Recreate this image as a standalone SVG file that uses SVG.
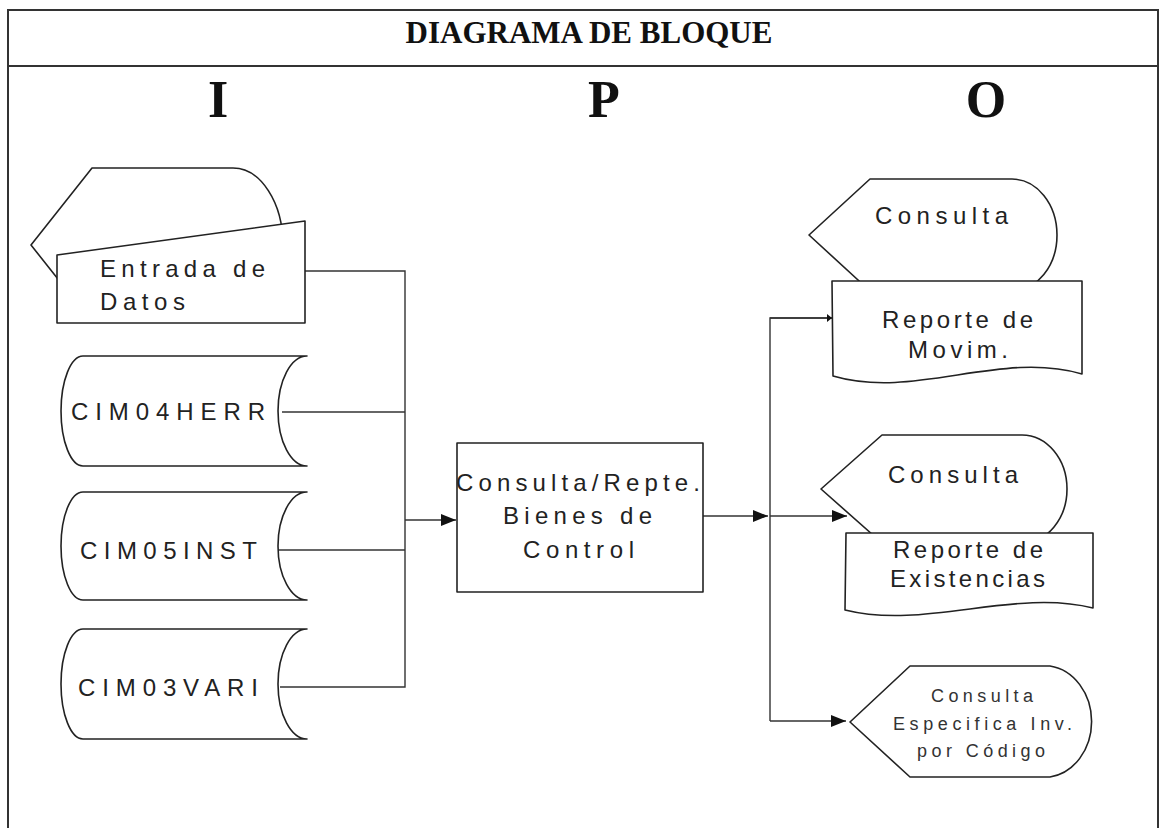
<svg xmlns="http://www.w3.org/2000/svg" width="1161" height="828" viewBox="0 0 1161 828">
<style>
.sh{fill:#fff;stroke:#222;stroke-width:1.6;stroke-linejoin:round}
.ln{fill:none;stroke:#333;stroke-width:1.4}
.fr{fill:none;stroke:#333;stroke-width:2}
.t{font-family:"Liberation Sans",Arial,sans-serif;font-size:24px;fill:#222}
.s{font-family:"Liberation Sans",Arial,sans-serif;font-size:18px;fill:#333}
.h{font-family:"Liberation Serif","Times New Roman",serif;font-weight:bold;fill:#111}
</style>
<defs>
<marker id="ar" markerUnits="userSpaceOnUse" markerWidth="16" markerHeight="14" refX="15" refY="6" orient="auto">
<path d="M0,0 L15,6 L0,12 Z" fill="#111"/>
</marker>
<marker id="ars" markerUnits="userSpaceOnUse" markerWidth="6" markerHeight="8" refX="5" refY="4" orient="auto">
<path d="M0,0 L5,4 L0,8 Z" fill="#111"/>
</marker>
</defs>
<rect width="1161" height="828" fill="#fff"/>
<g id="frame">
<path class="fr" d="M8,828 V10 H1158 V828"/>
<line class="fr" x1="8" y1="66" x2="1158" y2="66"/>
<text class="h" x="589" y="43" font-size="31" text-anchor="middle">DIAGRAMA DE BLOQUE</text>
<text class="h" x="218" y="117" font-size="52" text-anchor="middle">I</text>
<text class="h" x="604" y="117" font-size="52" text-anchor="middle">P</text>
<text class="h" x="986" y="117" font-size="52" text-anchor="middle">O</text>
</g>
<g id="connectors">
<path class="ln" d="M305,271 H405 V687 H280"/>
<path class="ln" d="M282,412 H405"/>
<path class="ln" d="M279,550 H405"/>
<path class="ln" d="M405,520 H456" marker-end="url(#ar)"/>
<path class="ln" d="M703,516 H768" marker-end="url(#ar)"/>
<path class="ln" d="M832,318 H770 V721"/>
<path class="ln" d="M770,318 H832" marker-end="url(#ars)"/>
<path class="ln" d="M770,516 H847" marker-end="url(#ar)"/>
<path class="ln" d="M770,721 H846" marker-end="url(#ar)"/>
</g>
<g id="display-entrada">
<path class="sh" d="M31,245 L92,168 L233,168 A50 77 0 0 1 233,322 L92,322 Z"/>
</g>
<g id="entrada-datos">
<path class="sh" d="M57,255 L305,221 L305,323 L57,323 Z"/>
<text class="t" x="100" y="277" textLength="165">Entrada de</text>
<text class="t" x="100" y="310" textLength="85">Datos</text>
</g>
<g id="cim04herr">
<path class="sh" d="M83,356 L307,356 A29 55 0 0 0 307,466 L83,466 A22 55 0 0 1 83,356 Z"/>
<text class="t" x="71" y="420" textLength="194">CIM04HERR</text>
</g>
<g id="cim05inst">
<path class="sh" d="M83,492 L307,492 A29 54 0 0 0 307,600 L83,600 A22 54 0 0 1 83,492 Z"/>
<text class="t" x="80" y="559" textLength="177">CIM05INST</text>
</g>
<g id="cim03vari">
<path class="sh" d="M83,629 L307,629 A29 55 0 0 0 307,739 L83,739 A22 55 0 0 1 83,629 Z"/>
<text class="t" x="78" y="696" textLength="180">CIM03VARI</text>
</g>
<g id="proceso">
<rect class="sh" x="457" y="443" width="246" height="149"/>
<text class="t" x="456" y="491" textLength="244">Consulta/Repte.</text>
<text class="t" x="503" y="524" textLength="149">Bienes de</text>
<text class="t" x="523" y="558" textLength="111">Control</text>
</g>
<g id="consulta-1">
<path class="sh" d="M809,235 L870,179 L1012,179 A45 56 0 0 1 1012,291 L870,291 Z"/>
<text class="t" x="875" y="224" textLength="133">Consulta</text>
</g>
<g id="reporte-movim">
<path class="sh" d="M832,281 H1082 V374 C1000,350 915,400 833,376 Z"/>
<text class="t" x="882" y="328" textLength="151">Reporte de</text>
<text class="t" x="908" y="358" textLength="100">Movim.</text>
</g>
<g id="consulta-2">
<path class="sh" d="M821,489 L882,435 L1022,435 A45 54 0 0 1 1022,543 L882,543 Z"/>
<text class="t" x="888" y="483" textLength="130">Consulta</text>
</g>
<g id="reporte-existencias">
<path class="sh" d="M846,533 H1093 V608 C1015,588 925,630 845,610 Z"/>
<text class="t" x="893" y="558" textLength="150">Reporte de</text>
<text class="t" x="890" y="587" textLength="155">Existencias</text>
</g>
<g id="consulta-especifica">
<path class="sh" d="M850,722 L910,666 L1050,666 A48 56 0 0 1 1050,777 L910,777 Z"/>
<text class="s" x="931" y="702" textLength="102">Consulta</text>
<text class="s" x="893" y="730" textLength="179">Especifica Inv.</text>
<text class="s" x="917" y="757" textLength="128">por Código</text>
</g>
</svg>
